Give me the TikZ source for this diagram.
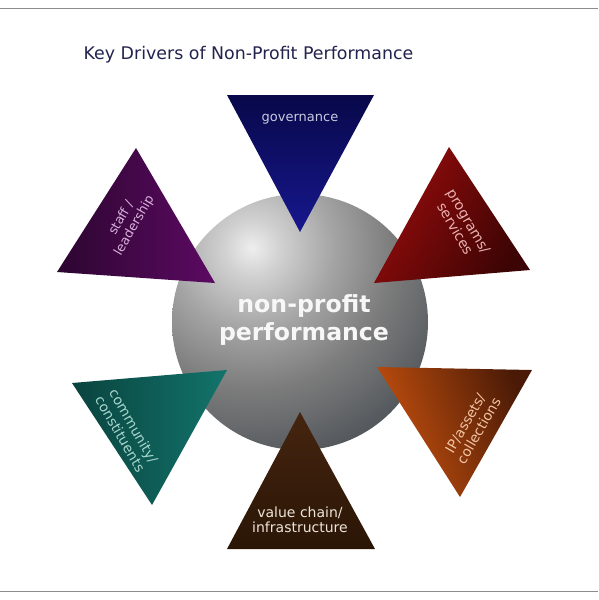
\documentclass[tikz,border=0pt]{standalone}
\usepackage{fontspec}
\setmainfont{DejaVu Sans}
\definecolor{titlec}{HTML}{23234F}
\definecolor{rulec}{HTML}{8C8C8C}
\definecolor{sp0}{HTML}{EEEEEE}
\definecolor{sp1}{HTML}{D0D0D0}
\definecolor{sp2}{HTML}{A4A4A4}
\definecolor{sp3}{HTML}{7C7C7C}
\definecolor{sp4}{HTML}{585C60}
\definecolor{sp5}{HTML}{3A444A}
\definecolor{govA}{HTML}{08084A}
\definecolor{govB}{HTML}{17178E}
\definecolor{stfA}{HTML}{2C0630}
\definecolor{stfB}{HTML}{5C0A62}
\definecolor{prgA}{HTML}{960C0C}
\definecolor{prgB}{HTML}{3C0404}
\definecolor{comA}{HTML}{0A433F}
\definecolor{comB}{HTML}{12746B}
\definecolor{ipA}{HTML}{C9520F}
\definecolor{ipB}{HTML}{4A1A06}
\definecolor{valA}{HTML}{452510}
\definecolor{valB}{HTML}{2A1505}
\definecolor{govT}{HTML}{CACAE0}
\definecolor{stfT}{HTML}{D9B2DC}
\definecolor{prgT}{HTML}{EBB2B2}
\definecolor{comT}{HTML}{A6D6CE}
\definecolor{ipT}{HTML}{F2C4A4}
\definecolor{valT}{HTML}{EDE4D8}
\pgfdeclareradialshading{sph}{\pgfpoint{0bp}{0bp}}{color(0bp)=(sp0); color(3.3bp)=(sp1); color(9.3bp)=(sp2); color(16bp)=(sp3); color(23.5bp)=(sp4); color(30bp)=(sp5); color(50bp)=(sp5)}
\tikzset{
  lbl/.style={inner sep=0pt, align=center},
  rulel/.style={draw=rulec, line width=1.5pt}
}
\begin{document}
\begin{tikzpicture}[x=1pt,y=-1pt]
\useasboundingbox[fill=white] (0,0) rectangle (598,600);
\coordinate (rl) at (0,8.5);
\coordinate (rr) at (598,8.5);
\coordinate (bl) at (0,591.5);
\coordinate (br) at (598,591.5);
\draw[rulel] (rl) -- (rr);
\draw[rulel] (bl) -- (br);
% title
\node[lbl, text=titlec, font=\fontsize{17.4}{20}\selectfont] (title) at (248.5,55) {Key Drivers of Non-Profit Performance};
% sphere
\coordinate (sc) at (300,322);
\coordinate (hl) at (252,248);
\begin{scope}
\clip (sc) circle (128);
\shade[shading=sph] (hl) circle (220);
\end{scope}
% triangles
\coordinate (g1) at (227,95); \coordinate (g2) at (374,95); \coordinate (g3) at (300,232);
\shade[top color=govA, bottom color=govB] (g1) -- (g2) -- (g3) -- cycle;
\coordinate (s1) at (136,148); \coordinate (s2) at (57,272); \coordinate (s3) at (215,283);
\shade[left color=stfA, right color=stfB] (s1) -- (s2) -- (s3) -- cycle;
\coordinate (p1) at (449,147); \coordinate (p2) at (374,283); \coordinate (p3) at (530,270);
\shade[left color=prgA, right color=prgB, shading angle=60] (p1) -- (p2) -- (p3) -- cycle;
\coordinate (c1) at (72,383); \coordinate (c2) at (227,370); \coordinate (c3) at (152,505);
\shade[left color=comA, right color=comB] (c1) -- (c2) -- (c3) -- cycle;
\coordinate (i1) at (377,367); \coordinate (i2) at (532,370); \coordinate (i3) at (460,497);
\shade[left color=ipA, right color=ipB, shading angle=110] (i1) -- (i2) -- (i3) -- cycle;
\coordinate (v1) at (300,412); \coordinate (v2) at (227,549); \coordinate (v3) at (375,549);
\shade[top color=valA, bottom color=valB] (v1) -- (v2) -- (v3) -- cycle;
% labels
\node[lbl, text=white!94!gray, font=\bfseries\fontsize{23.6}{28}\selectfont] (core) at (304,320) {non-profit\\performance};
\node[lbl, text=govT, font=\fontsize{13}{15}\selectfont] (gov) at (300,119) {governance};
\node[lbl, text=stfT, rotate=60, font=\fontsize{12.8}{15}\selectfont] (stf) at (128,222) {staff /\\leadership};
\node[lbl, text=prgT, rotate=-60, font=\fontsize{14}{15.5}\selectfont] (prg) at (462,225) {programs/\\services};
\node[lbl, text=comT, rotate=-60, font=\fontsize{13.8}{15.5}\selectfont] (com) at (127,430) {community/\\constituents};
\node[lbl, text=ipT, rotate=60, font=\fontsize{13.8}{15.5}\selectfont] (ip) at (472,427) {IP/assets/\\collections};
\node[lbl, text=valT, font=\fontsize{14}{15.5}\selectfont] (val) at (300,520) {value chain/\\infrastructure};
\end{tikzpicture}
\end{document}
